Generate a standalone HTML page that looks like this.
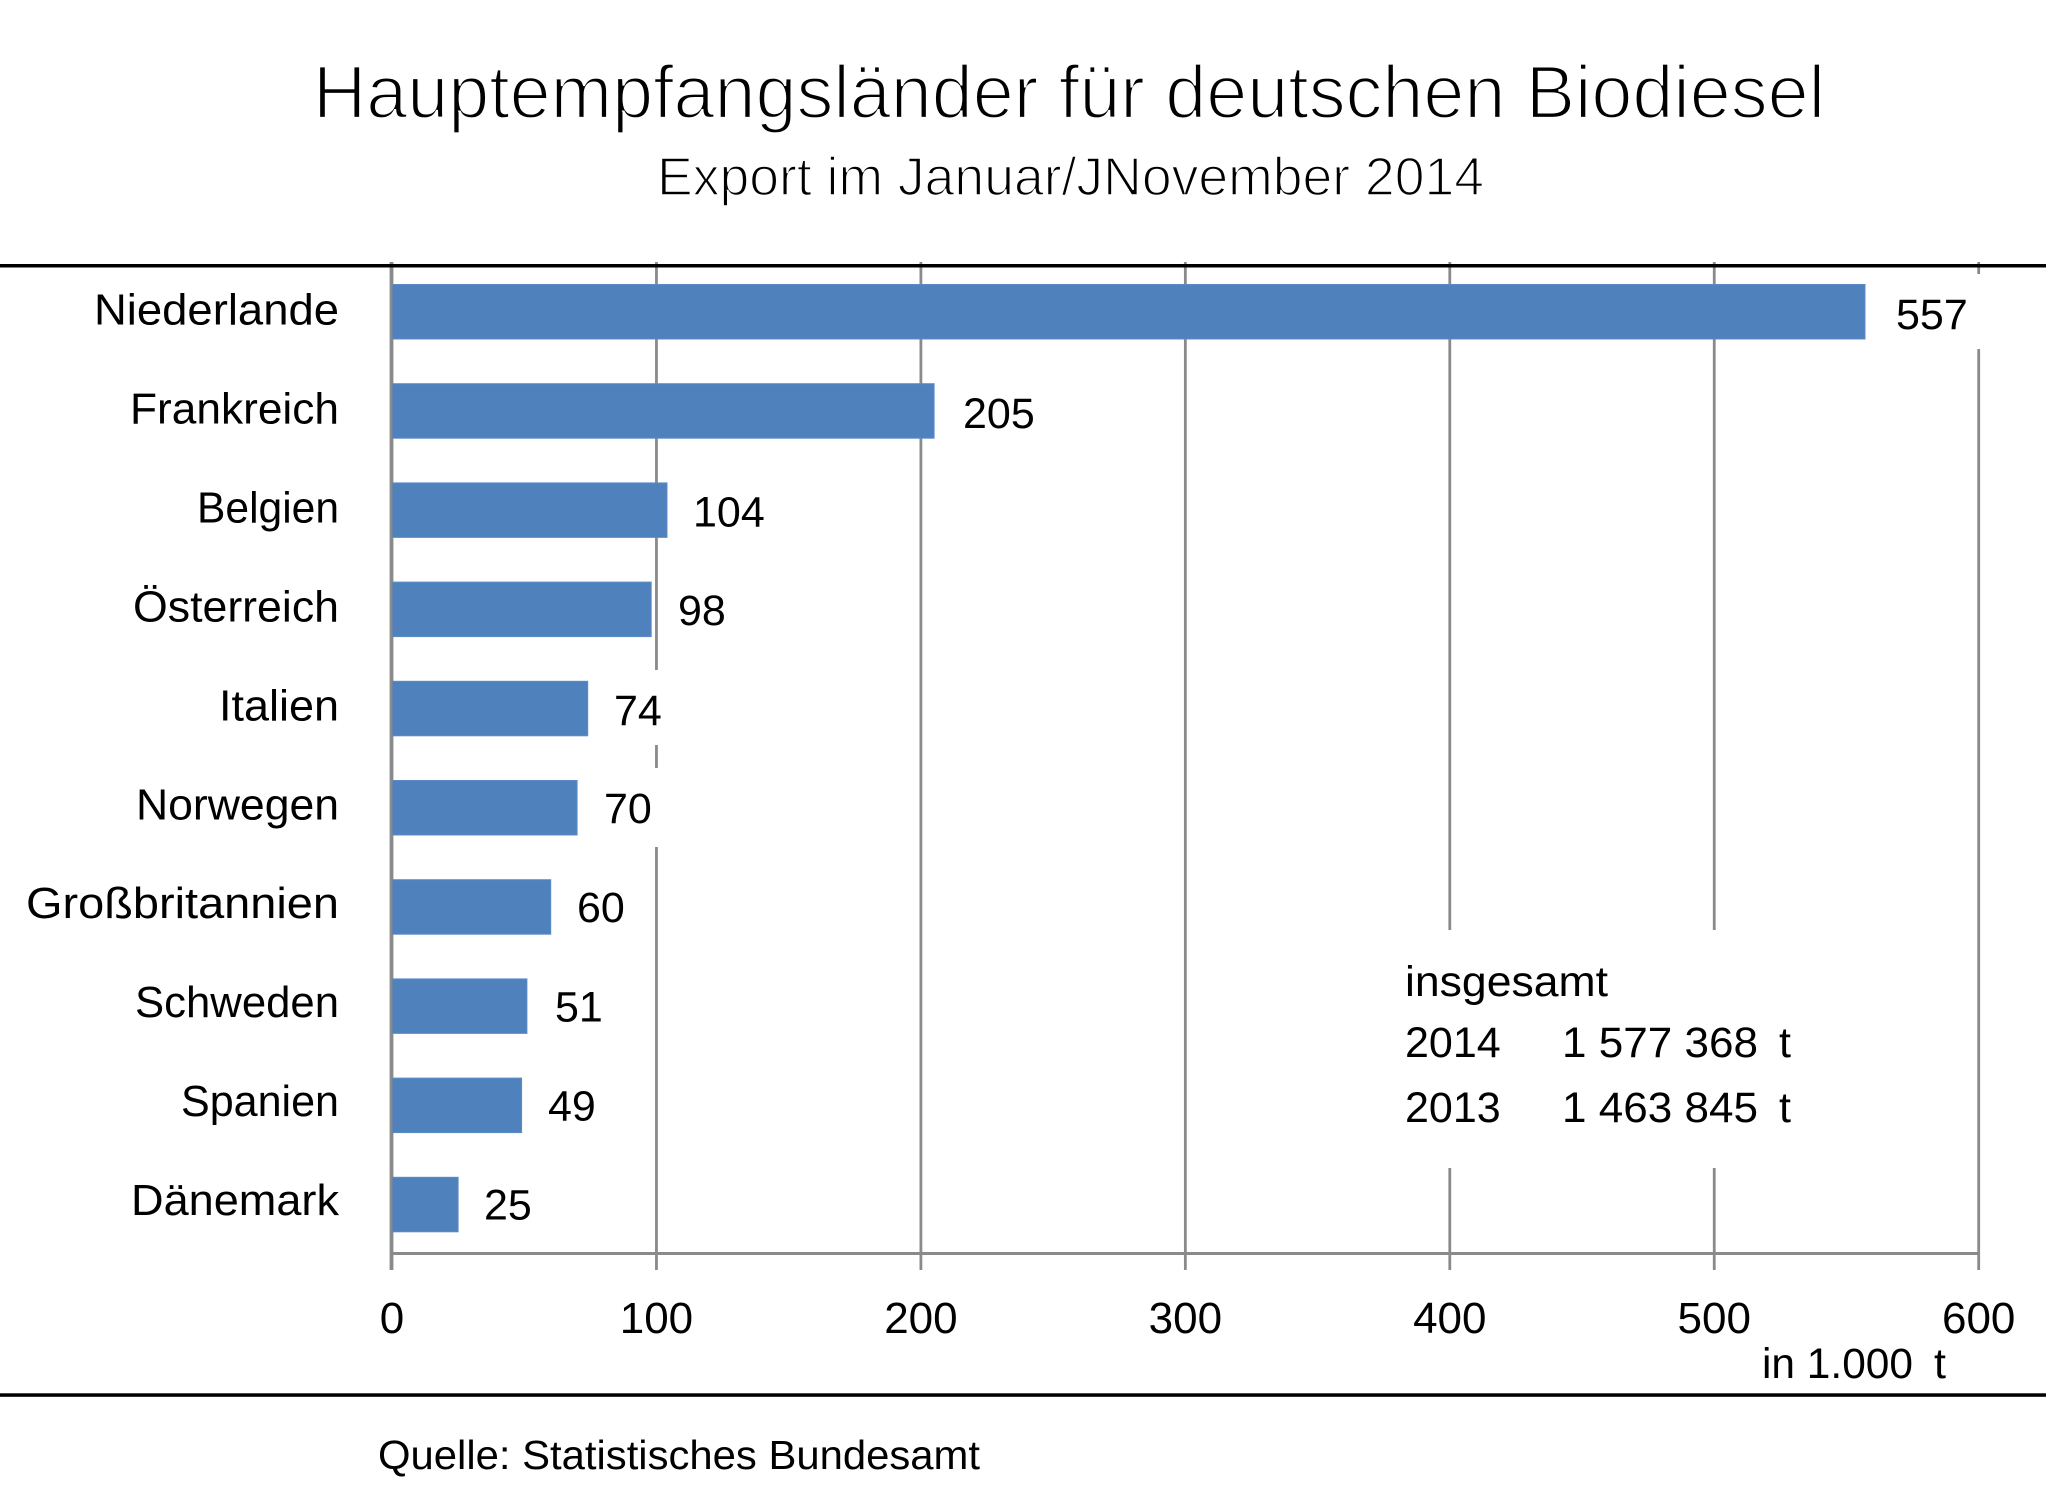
<!DOCTYPE html>
<html>
<head>
<meta charset="utf-8">
<style>
  html, body { margin: 0; padding: 0; background: #ffffff; }
  body { width: 2048px; height: 1510px; overflow: hidden; }
  svg { display: block; }
  text { font-family: "Liberation Sans", "DejaVu Sans", sans-serif; fill: #000; }
</style>
</head>
<body>
<svg width="2048" height="1510" viewBox="0 0 2048 1510" xmlns="http://www.w3.org/2000/svg">
  <rect x="0" y="0" width="2048" height="1510" fill="#ffffff"/>

  <!-- Title -->
  <text x="313" y="118" font-size="75" textLength="1512" lengthAdjust="spacingAndGlyphs" stroke="#ffffff" stroke-width="2.2">Hauptempfangsländer für deutschen Biodiesel</text>
  <text x="657" y="195" font-size="54" textLength="827" lengthAdjust="spacingAndGlyphs" stroke="#ffffff" stroke-width="1.6">Export im Januar/JNovember 2014</text>

  <!-- Gridlines -->
  <g stroke="#8a8a8a" stroke-width="2.8" fill="none">
    <line x1="392" y1="262" x2="392" y2="1270"/>
    <line x1="656.45" y1="262" x2="656.45" y2="670"/>
    <line x1="656.45" y1="745" x2="656.45" y2="768"/>
    <line x1="656.45" y1="847" x2="656.45" y2="1270"/>
    <line x1="920.9" y1="262" x2="920.9" y2="1270"/>
    <line x1="1185.35" y1="262" x2="1185.35" y2="1270"/>
    <line x1="1449.8" y1="262" x2="1449.8" y2="930"/>
    <line x1="1449.8" y1="1168" x2="1449.8" y2="1270"/>
    <line x1="1714.25" y1="262" x2="1714.25" y2="930"/>
    <line x1="1714.25" y1="1168" x2="1714.25" y2="1270"/>
    <line x1="1978.7" y1="262" x2="1978.7" y2="274"/>
    <line x1="1978.7" y1="349" x2="1978.7" y2="1270"/>
  </g>

  <!-- Bars -->
  <g fill="#4f81bd" stroke="#5b8cc8" stroke-width="1">
    <rect x="392" y="284.5" width="1473.0" height="54.5"/>
    <rect x="392" y="383.7" width="542.1" height="54.5"/>
    <rect x="392" y="482.9" width="275.0" height="54.5"/>
    <rect x="392" y="582.1" width="259.2" height="54.5"/>
    <rect x="392" y="681.3" width="195.7" height="54.5"/>
    <rect x="392" y="780.5" width="185.1" height="54.5"/>
    <rect x="392" y="879.7" width="158.7" height="54.5"/>
    <rect x="392" y="978.9" width="134.9" height="54.5"/>
    <rect x="392" y="1078.1" width="129.6" height="54.5"/>
    <rect x="392" y="1177.3" width="66.1" height="54.5"/>
  </g>

  <!-- Axis line at 0 and x axis -->
  <line x1="391" y1="262" x2="391" y2="1270" stroke="#8a8a8a" stroke-width="2.8"/>
  <line x1="390" y1="1253.5" x2="1980" y2="1253.5" stroke="#8a8a8a" stroke-width="3"/>

  <!-- Black separator lines -->
  <rect x="0" y="264" width="2046" height="3.5" fill="#000"/>
  <rect x="0" y="1393.3" width="2046" height="3.5" fill="#000"/>

  <!-- Category labels -->
  <g font-size="44" text-anchor="end">
    <text x="339" y="324.6" textLength="245" lengthAdjust="spacingAndGlyphs">Niederlande</text>
    <text x="339" y="423.5" textLength="209" lengthAdjust="spacingAndGlyphs">Frankreich</text>
    <text x="339" y="522.5" textLength="142" lengthAdjust="spacingAndGlyphs">Belgien</text>
    <text x="339" y="621.4" textLength="206" lengthAdjust="spacingAndGlyphs">Österreich</text>
    <text x="339" y="720.3" textLength="120" lengthAdjust="spacingAndGlyphs">Italien</text>
    <text x="339" y="819.3" textLength="203" lengthAdjust="spacingAndGlyphs">Norwegen</text>
    <text x="339" y="918.2" textLength="313" lengthAdjust="spacingAndGlyphs">Großbritannien</text>
    <text x="339" y="1017.1" textLength="204" lengthAdjust="spacingAndGlyphs">Schweden</text>
    <text x="339" y="1116.0" textLength="158" lengthAdjust="spacingAndGlyphs">Spanien</text>
    <text x="339" y="1215.0" textLength="208" lengthAdjust="spacingAndGlyphs">Dänemark</text>
  </g>

  <!-- Value labels -->
  <g font-size="43">
    <text x="1896" y="329">557</text>
    <text x="963" y="428">205</text>
    <text x="693" y="526.5">104</text>
    <text x="678" y="625">98</text>
    <text x="614" y="725">74</text>
    <text x="604" y="823">70</text>
    <text x="577" y="922">60</text>
    <text x="555" y="1021.5">51</text>
    <text x="548" y="1120.5">49</text>
    <text x="484" y="1219.3">25</text>
  </g>

  <!-- Tick labels -->
  <g font-size="44" text-anchor="middle">
    <text x="392" y="1333">0</text>
    <text x="656.45" y="1333">100</text>
    <text x="920.9" y="1333">200</text>
    <text x="1185.35" y="1333">300</text>
    <text x="1449.8" y="1333">400</text>
    <text x="1714.25" y="1333">500</text>
    <text x="1978.7" y="1333">600</text>
  </g>

  <!-- Unit -->
  <text x="1762" y="1378" font-size="43" textLength="151" lengthAdjust="spacingAndGlyphs">in 1.000</text>
  <text x="1934" y="1378" font-size="43">t</text>

  <!-- Totals box -->
  <g font-size="43">
    <text x="1405" y="996" textLength="203" lengthAdjust="spacingAndGlyphs">insgesamt</text>
    <text x="1405" y="1057">2014</text>
    <text x="1562" y="1057" textLength="196" lengthAdjust="spacingAndGlyphs">1 577 368</text>
    <text x="1779" y="1057">t</text>
    <text x="1405" y="1122">2013</text>
    <text x="1562" y="1122" textLength="196" lengthAdjust="spacingAndGlyphs">1 463 845</text>
    <text x="1779" y="1122">t</text>
  </g>

  <!-- Source -->
  <text x="378" y="1469" font-size="41" textLength="602" lengthAdjust="spacingAndGlyphs">Quelle: Statistisches Bundesamt</text>
</svg>
</body>
</html>
